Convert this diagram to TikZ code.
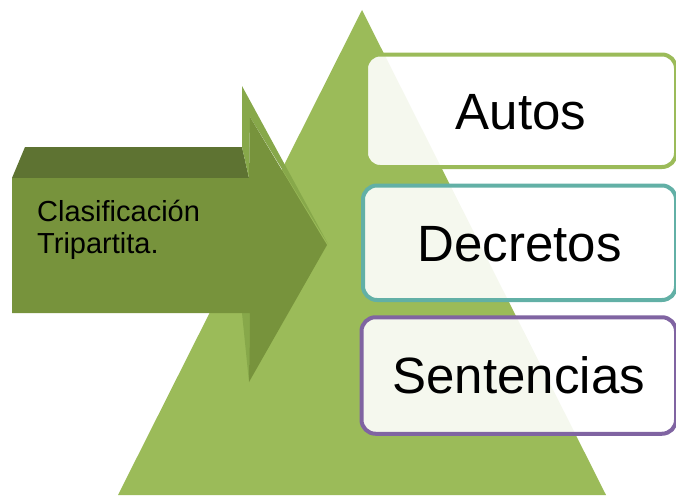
\documentclass[tikz,border=0pt]{standalone}
\usepackage{fontspec}
\setmainfont{Liberation Sans}
\definecolor{trigreen}{HTML}{9BBB59}
\definecolor{arrfront}{HTML}{77933C}
\definecolor{arrtop}{HTML}{5E7332}
\definecolor{arrside}{HTML}{87A84A}
\definecolor{tealb}{HTML}{62B0A6}
\definecolor{purpleb}{HTML}{8064A2}
\tikzset{
  box/.style={rounded corners=14pt, line width=4pt, fill=white, fill opacity=0.9, text opacity=1,
    font=\fontsize{51}{60}\selectfont, text height=36.5pt, text depth=0pt, inner sep=0pt},
}
\begin{document}
\begin{tikzpicture}[x=1pt,y=-1pt]
\useasboundingbox (0,0) rectangle (676,495);
% triangle
\fill[trigreen] (362,10) -- (606,495) -- (118,495) -- cycle;
% arrow
\fill[arrtop] (12,178) -- (25,147) -- (242,147) -- (249,178) -- cycle;
\fill[arrside] (242,86) -- (328,244) -- (250,117) -- (249,178) -- (242,147) -- cycle;
\fill[arrside] (242,313) -- (249,382) -- (250,313) -- cycle;
\fill[arrfront] (12,178) -- (249,178) -- (250,117) -- (327,245) -- (249,382) -- (250,313) -- (12,313) -- cycle;
\node[anchor=north west, inner sep=0pt, align=left, font=\fontsize{29}{32}\selectfont] (clas) at (37,200) {Clasificación\\Tripartita.};
% boxes
\node[box, draw=trigreen, minimum width=310pt, minimum height=112.5pt] (autos) at (521,110.75) {Autos};
\node[box, draw=tealb, minimum width=313pt, minimum height=114.5pt] (decretos) at (519.5,242.75) {Decretos};
\node[box, draw=purpleb, minimum width=314.5pt, minimum height=116.5pt] (sentencias) at (518.75,375.5) {Sentencias};
\end{tikzpicture}
\end{document}
